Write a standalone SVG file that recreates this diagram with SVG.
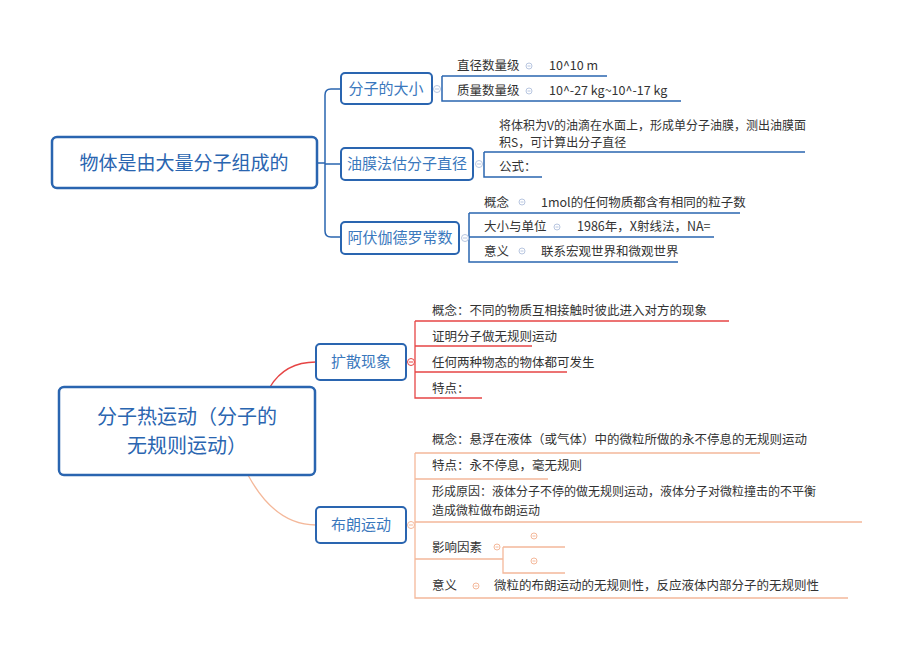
<svg xmlns="http://www.w3.org/2000/svg" width="920" height="651" viewBox="0 0 920 651">
<style>
text{font-family:"Noto Sans CJK SC","Liberation Sans",sans-serif;fill:#333;font-size:12.5px}
.box{fill:#fff;stroke:#2a65b0;stroke-width:2}
.root{fill:#fff;stroke:#2a65b0;stroke-width:2.5}
.bt{fill:#3a78bd;font-size:15px}
.rt{fill:#2a65b0;font-size:19px}
.rt2{fill:#2a65b0;font-size:20px}
.b{fill:none;stroke:#2a65b0;stroke-width:1.5}
.r{fill:none;stroke:#e64545;stroke-width:1.3}
.p{fill:none;stroke:#f4b89a;stroke-width:1.3}
.cb{fill:#fff;stroke:#b8c6e0;stroke-width:1}
.cr{fill:#fff;stroke:#e64545;stroke-width:1}
.cp{fill:#fff;stroke:#f4b89a;stroke-width:1}
.mb{stroke:#b8c6e0;stroke-width:1}
.mr{stroke:#e64545;stroke-width:1}
.mp{stroke:#f4b89a;stroke-width:1}
.sm{font-size:12px}
</style>
<g id="connectors">
<path class="b" d="M317,163 H325 M341,89 H331 Q325,89 325,95 V231 Q325,237 331,237 H341 M325,164 H341"/>
<path class="b" d="M442,76 H607 M442,76 V101 H681"/>
<path class="b" d="M484,152 H805 M484,152 V177 H542"/>
<path class="b" d="M469,213 H740 M469,213 V262 H678 M469,237 H714"/>
<path class="r" d="M270,387 Q285,362 316,362"/>
<path class="r" d="M415,321 H729 M415,321 V398 H482 M415,346 H532 M415,372 H567"/>
<path class="p" d="M248,475 Q275,525 316,525"/>
<path class="p" d="M415,453 H760 M415,453 V598 H848 M415,479 H548 M415,522 H862 M415,559 H503 M503,547 H565 M503,547 V573 H565"/>
</g>
<g id="n1"><rect class="root" x="52" y="137" width="265" height="51" rx="5"/><text class="rt" x="184" y="170" text-anchor="middle">物体是由大量分子组成的</text></g>
<g id="n2"><rect class="box" x="341" y="73" width="91" height="31" rx="4"/><text class="bt" x="386" y="94" text-anchor="middle">分子的大小</text><circle class="cb" cx="437" cy="89" r="3.5"/><path class="mb" d="M435,89 H439"/></g>
<g id="n3"><rect class="box" x="341" y="148" width="132" height="32" rx="4"/><text class="bt" x="407" y="169" text-anchor="middle">油膜法估分子直径</text><circle class="cb" cx="479" cy="164" r="3.5"/><path class="mb" d="M477,164 H481"/></g>
<g id="n4"><rect class="box" x="341" y="222" width="118" height="32" rx="4"/><text class="bt" x="400" y="243" text-anchor="middle">阿伏伽德罗常数</text><circle class="cb" cx="465" cy="238" r="3.5"/><path class="mb" d="M463,238 H467"/></g>
<g id="n2c">
<text x="457" y="70">直径数量级</text><circle class="cb" cx="529" cy="66" r="3"/><path class="mb" d="M527.5,66 H530.5"/><text x="549" y="70">10^10 m</text>
<text x="457" y="95">质量数量级</text><circle class="cb" cx="529" cy="91" r="3"/><path class="mb" d="M527.5,91 H530.5"/><text x="549" y="95">10^-27 kg~10^-17 kg</text>
</g>
<g id="n3c">
<text class="sm" x="499" y="130">将体积为V的油滴在水面上，形成单分子油膜，测出油膜面</text>
<text class="sm" x="499" y="147">积S，可计算出分子直径</text>
<text x="499" y="171">公式：</text>
</g>
<g id="n4c">
<text x="484" y="207">概念</text><circle class="cb" cx="522" cy="202" r="3"/><path class="mb" d="M520.5,202 H523.5"/><text x="541" y="207">1mol的任何物质都含有相同的粒子数</text>
<text x="484" y="231">大小与单位</text><circle class="cb" cx="557" cy="227" r="3"/><path class="mb" d="M555.5,227 H558.5"/><text x="577" y="231">1986年，X射线法，NA=</text>
<text x="484" y="256">意义</text><circle class="cb" cx="522" cy="251" r="3"/><path class="mb" d="M520.5,251 H523.5"/><text x="541" y="256">联系宏观世界和微观世界</text>
</g>
<g id="n5"><rect class="root" x="59" y="387" width="256" height="88" rx="5"/><text class="rt2" x="187" y="424" text-anchor="middle">分子热运动（分子的</text><text class="rt2" x="187" y="453" text-anchor="middle">无规则运动）</text></g>
<g id="n6"><rect class="box" x="316" y="344" width="90" height="36" rx="4"/><text class="bt" x="361" y="367" text-anchor="middle">扩散现象</text><circle class="cr" cx="411" cy="362" r="3.5"/><path class="mr" d="M409,362 H413"/></g>
<g id="n7"><rect class="box" x="316" y="507" width="90" height="36" rx="4"/><text class="bt" x="361" y="530" text-anchor="middle">布朗运动</text><circle class="cp" cx="411" cy="525" r="3.5"/><path class="mp" d="M409,525 H413"/></g>
<g id="n6c">
<text x="432" y="315">概念：不同的物质互相接触时彼此进入对方的现象</text>
<text x="432" y="341">证明分子做无规则运动</text>
<text x="432" y="367">任何两种物态的物体都可发生</text>
<text x="432" y="393">特点：</text>
</g>
<g id="n7c">
<text x="432" y="444">概念：悬浮在液体（或气体）中的微粒所做的永不停息的无规则运动</text>
<text x="432" y="470">特点：永不停息，毫无规则</text>
<text class="sm" x="432" y="496">形成原因：液体分子不停的做无规则运动，液体分子对微粒撞击的不平衡</text>
<text class="sm" x="432" y="515">造成微粒做布朗运动</text>
<text x="432" y="552">影响因素</text><circle class="cp" cx="497" cy="547" r="3"/><path class="mp" d="M495.5,547 H498.5"/>
<circle class="cp" cx="534" cy="536" r="3"/><path class="mp" d="M532.5,536 H535.5"/><circle class="cp" cx="534" cy="561" r="3"/><path class="mp" d="M532.5,561 H535.5"/>
<text x="432" y="590">意义</text><circle class="cp" cx="476" cy="586" r="3"/><path class="mp" d="M474.5,586 H477.5"/><text x="494" y="590">微粒的布朗运动的无规则性，反应液体内部分子的无规则性</text>
</g>
</svg>
